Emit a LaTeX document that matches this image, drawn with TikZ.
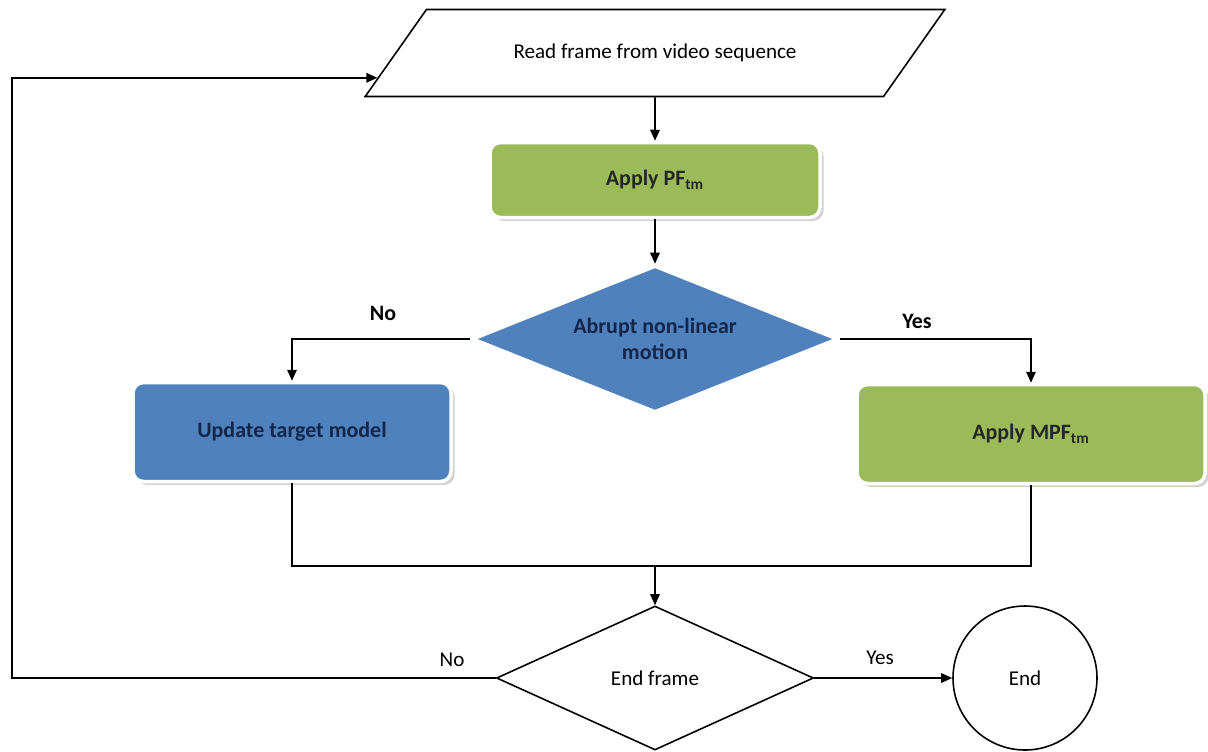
\documentclass[tikz,border=0pt]{standalone}
\usepackage{fontspec}
\setmainfont{Carlito}
\usetikzlibrary{arrows.meta,shapes.geometric,shadows,calc}
\definecolor{boxgreen}{HTML}{9BBB59}
\definecolor{boxblue}{HTML}{4F81BD}
\definecolor{textnavy}{HTML}{14264A}
\tikzset{
  arr/.style={-{Triangle[length=2.2mm,width=1.9mm]},black,line width=0.9pt},
  line/.style={black,line width=0.9pt},
  procbox/.style={rectangle,rounded corners=6pt,draw=white,line width=2pt,
    drop shadow={opacity=0.35,shadow xshift=2pt,shadow yshift=-2pt},
    font=\fontsize{12.5}{14}\selectfont\bfseries},
  greenbox/.style={procbox,fill=boxgreen,text=black!85},
  bluebox/.style={procbox,fill=boxblue,text=textnavy},
  decide/.style={diamond,aspect=2.5,inner sep=0pt,align=center},
  iobox/.style={trapezium,trapezium left angle=37,trapezium right angle=143,
    trapezium stretches=true,draw=black,line width=0.9pt,fill=white,
    font=\fontsize{12}{14}\selectfont},
  lbl/.style={font=\fontsize{12}{14}\selectfont},
}

\begin{document}
\begin{tikzpicture}[x=0.2mm,y=-0.2mm]
  \useasboundingbox (0,0) rectangle (1208,751);
  % input frame
  \node[iobox,minimum width=11.6cm,minimum height=1.74cm] (read) at (655,53) {Read frame from video sequence};
  \node[greenbox,minimum width=6.6cm,minimum height=1.5cm] (pf) at (655,180) {Apply PF\textsubscript{tm}};
  % decision on motion
  \node[decide,fill=boxblue,draw=white,line width=2pt,minimum width=7.32cm,minimum height=2.94cm,
    font=\fontsize{12.5}{15}\selectfont\bfseries,text=textnavy] (motion) at (655,339) {Abrupt non-linear\\motion};
  \node[bluebox,minimum width=6.36cm,minimum height=1.98cm] (upd) at (292,432) {Update target model};
  \node[greenbox,minimum width=6.96cm,minimum height=1.98cm] (mpf) at (1031,434) {Apply MPF\textsubscript{tm}};
  \coordinate (join) at (655,566);
  % end test
  \node[decide,draw=black,line width=0.9pt,fill=white,minimum width=6.34cm,minimum height=2.88cm,lbl] (endf) at (655,678) {End frame};
  \node[circle,draw=black,line width=0.9pt,minimum size=2.88cm,lbl] (stop) at (1025,678) {End};
  \coordinate (back) at (12,678);
  \coordinate (inpt) at ($(read.bottom left corner)!0.22!(read.top left corner)$);

  \draw[arr] (read) -- (pf);
  \draw[arr] (pf) -- (motion);
  \draw[arr] (motion.west) -| (upd.north);
  \draw[arr] (motion.east) -| (mpf.north);
  \draw[line] (upd.south) |- (join) -| (mpf.south);
  \draw[arr] (join) -- (endf.north);
  \draw[arr] (endf.east) -- (stop.west);
  \draw[arr] (endf.west) -- (back) |- (inpt);

  \node[font=\fontsize{12.5}{14}\selectfont\bfseries] (nolbl) at (383,313) {No};
  \node[font=\fontsize{12.5}{14}\selectfont\bfseries] (yeslbl) at (917,321) {Yes};
  \node[lbl] (noend) at (452,660) {No};
  \node[lbl] (yesend) at (880,658) {Yes};
\end{tikzpicture}
\end{document}
